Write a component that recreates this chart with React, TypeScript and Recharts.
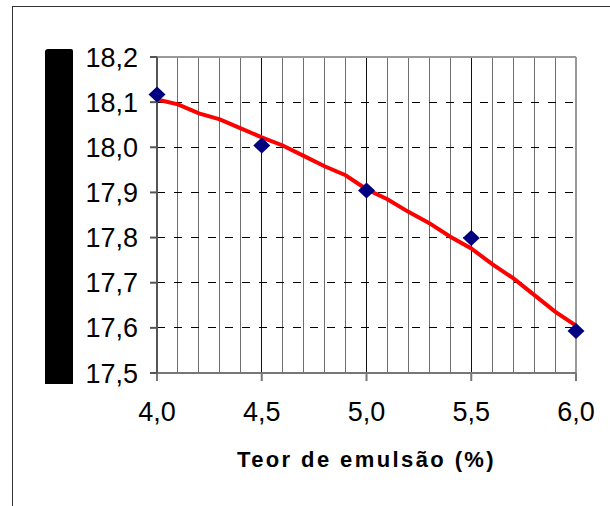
import React from 'react';
import { ComposedChart, Line, Scatter, XAxis, YAxis, CartesianGrid } from 'recharts';

// measured points (teor de emulsão %, value)
const emulsionX = [4.0, 4.5, 5.0, 5.5, 6.0];
const measured = [18.117, 18.004, 17.904, 17.799, 17.593];

// red fitted curve, read every 0.1 %
const trendX = [4.0, 4.1, 4.2, 4.3, 4.4, 4.5, 4.6, 4.7, 4.8, 4.9, 5.0, 5.1, 5.2, 5.3, 5.4, 5.5, 5.6, 5.7, 5.8, 5.9, 6.0];
const trendY = [
  18.106, 18.095, 18.075, 18.062, 18.042, 18.022, 18.004, 17.981, 17.958, 17.938, 17.907,
  17.885, 17.857, 17.832, 17.802, 17.776, 17.741, 17.71, 17.673, 17.636, 17.605,
];

const xTicks = [4.0, 4.5, 5.0, 5.5, 6.0];
const yTicks = [17.5, 17.6, 17.7, 17.8, 17.9, 18.0, 18.1, 18.2];
// minor gridlines split in two sets so the grid doesn't thin them out
const minorGridA = [4.1, 4.3, 4.6, 4.8, 5.1, 5.3, 5.6, 5.8];
const minorGridB = [4.2, 4.4, 4.7, 4.9, 5.2, 5.4, 5.7, 5.9];
const majorGridX = [4.5, 5.0, 5.5];
const dashedGridY = [17.6, 17.7, 17.8, 17.9, 18.0, 18.1];

const pointData = emulsionX.map((x, i) => ({ x, y: measured[i] }));
const trendData = trendX.map((x, i) => ({ x, y: trendY[i] }));

const fmt = (v: number) => v.toFixed(1).replace('.', ',');

const Diamond = (props: any) => {
  const { cx, cy } = props;
  if (cx == null || cy == null) return null;
  return (
    <path
      d={`M${cx},${cy - 8} L${cx + 8.5},${cy} L${cx},${cy + 8} L${cx - 8.5},${cy} Z`}
      fill="#000080"
    />
  );
};

const font = '"Liberation Sans", Arial, sans-serif';

export default function App() {
  return (
    <div style={{ position: 'absolute', left: 0, top: 0, width: 610, height: 506, background: '#fff' }}>
      {/* outer frame (top and left edges only visible) */}
      <div style={{ position: 'absolute', left: 12, top: 6, width: 598, height: 500, borderTop: '1px solid #333', borderLeft: '1px solid #333' }} />
      {/* y-axis title block */}
      <div style={{ position: 'absolute', left: 45, top: 49, width: 28, height: 335, background: '#000', borderRadius: '3px 2px 0 0' }} />
      <div style={{ position: 'absolute', left: 0, top: 0 }}>
        <ComposedChart
          width={610}
          height={506}
          margin={{ top: 57, right: 34, bottom: 33, left: 0 }}
          style={{ fontFamily: font }}
        >
          <CartesianGrid horizontal={false} verticalValues={minorGridA} stroke="#6e6e6e" strokeWidth={1} shapeRendering="crispEdges" />
          <CartesianGrid horizontal={false} verticalValues={minorGridB} stroke="#6e6e6e" strokeWidth={1} shapeRendering="crispEdges" />
          <CartesianGrid horizontal={false} verticalValues={majorGridX} stroke="#111" strokeWidth={1} shapeRendering="crispEdges" />
          <CartesianGrid vertical={false} horizontalValues={dashedGridY} stroke="#000" strokeDasharray="8 9" shapeRendering="crispEdges" />
          <CartesianGrid horizontalValues={[18.2]} verticalValues={[6.0]} stroke="#999" strokeWidth={2} />
          <XAxis
            type="number"
            dataKey="x"
            domain={[4, 6]}
            ticks={xTicks}
            tickFormatter={fmt}
            height={100}
            tickSize={8}
            tickMargin={21}
            stroke="#777"
            strokeWidth={2}
            tick={{ fill: '#000', fontSize: 27 }}
            label={{
              value: 'Teor de emulsão (%)',
              position: 'insideBottom',
              offset: 6,
              style: { fontSize: 22, fontWeight: 'bold', fill: '#000', letterSpacing: 2.4 },
            }}
          />
          <YAxis
            type="number"
            domain={[17.5, 18.2]}
            ticks={yTicks}
            tickFormatter={fmt}
            width={157}
            tickSize={7}
            tickMargin={12}
            stroke="#555"
            strokeWidth={2}
            tick={{ fill: '#000', fontSize: 27 }}
          />
          <Line
            data={trendData}
            dataKey="y"
            type="linear"
            stroke="#ff0000"
            strokeWidth={4}
            dot={false}
            activeDot={false}
            isAnimationActive={false}
          />
          <Scatter data={pointData} dataKey="y" shape={<Diamond />} isAnimationActive={false} />
        </ComposedChart>
      </div>
    </div>
  );
}
